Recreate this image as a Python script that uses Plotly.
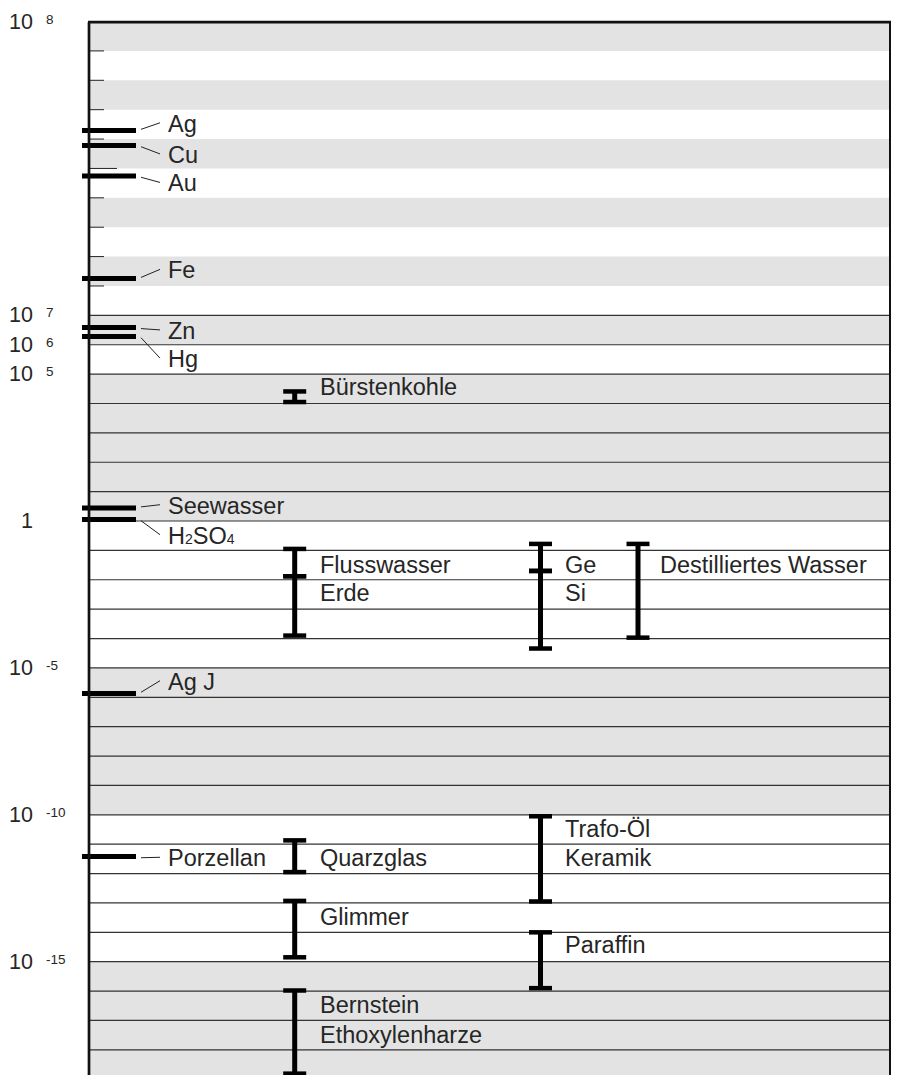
import plotly.graph_objects as go

# ---------------- data (chart position units: 1 unit = 1 band; below 10^7 one band = one decade) ----------------
# single-value materials (thick bars at the left axis)
point_names = ["Ag", "Cu", "Au", "Fe", "Zn", "Hg", "Seewasser",
               "H<span style='font-size:14px'>2</span>SO<span style='font-size:14px'>4</span>", "Ag J", "Porzellan"]
point_values = [13.29, 12.78, 11.74, 8.25, 6.59, 6.28, 0.44, 0.05, -5.87, -11.42]
point_label_pos = [13.52, 12.46, 11.49, 8.53, 6.47, 5.51, 0.52, -0.50, -5.47, -11.48]

# range materials: column, high end, low end
range_col = [1, 1, 1, 1, 1, 1, 2, 2, 2, 2, 3]
range_hi = [4.41, -0.95, -1.88, -10.87, -12.93, -15.98, -0.78, -1.70, -10.05, -14.00, -0.78]
range_lo = [4.05, -1.88, -3.90, -11.95, -14.85, -18.81, -1.70, -4.34, -12.95, -15.90, -3.97]

range_labels = ["Bürstenkohle", "Flusswasser", "Erde", "Quarzglas", "Glimmer", "Bernstein", "Ethoxylenharze",
                "Ge", "Si", "Trafo-Öl", "Keramik", "Paraffin", "Destilliertes Wasser"]
range_label_col = [1, 1, 1, 1, 1, 1, 1, 2, 2, 2, 2, 2, 3]
range_label_pos = [4.55, -1.49, -2.46, -11.46, -13.47, -16.46, -17.48, -1.50, -2.46, -10.47, -11.48, -14.43, -1.50]

# axis tick labels (mantissa + exponent)
tick_pos = [17, 7, 6, 5, 0, -5, -10, -15]
tick_base = ["10", "10", "10", "10", "1", "10", "10", "10"]
tick_exp = ["8", "7", "6", "5", "", "-5", "-10", "-15"]

# shaded bands and grid lines
band_lo = [16, 14, 12, 10, 8, 6, 0, -10, -19]
band_hi = [17, 15, 13, 11, 9, 7, 5, -5, -15]
grid_lines = list(range(7, -19, -1))
minor_ticks = [16, 15, 14, 13, 12, 11, 10, 9, 8]

# ---------------- style ----------------
# page body has an 8px default margin, so the figure is offset by 8px; x axis is in page pixels
X0, X1 = 89, 890.5
COL_X = {1: 294.7, 2: 540.5, 3: 638.0}
COL_LABEL_X = {1: 318, 2: 563, 3: 658}
PX_PER_UNIT = 29.38
FONT = "Liberation Sans, Arial, Helvetica, sans-serif"
TXT = "#262626"
FS = 23.5

fig = go.Figure()
shapes = []
for lo, hi in zip(band_lo, band_hi):
    shapes.append(dict(type="rect", xref="x", yref="y", x0=X0, x1=X1, y0=lo, y1=hi,
                       fillcolor="#e3e3e3", line=dict(width=0), layer="below"))
for g in grid_lines:
    shapes.append(dict(type="line", xref="x", yref="y", x0=X0, x1=X1, y0=g, y1=g,
                       line=dict(color="#333333", width=1.2), layer="below"))
for t in minor_ticks:
    shapes.append(dict(type="line", xref="x", yref="y", x0=X0, x1=(117 if t == 12 else 104), y0=t, y1=t,
                       line=dict(color="#222222", width=1)))
# frame
shapes.append(dict(type="line", xref="x", yref="y", x0=X0 - 1, x1=X1 + 1, y0=16.98, y1=16.98,
                   line=dict(color="#111111", width=2.6)))
shapes.append(dict(type="line", xref="x", yref="y", x0=X0, x1=X0, y0=16.98, y1=-19,
                   line=dict(color="#111111", width=2.7)))
shapes.append(dict(type="line", xref="x", yref="y", x0=X1, x1=X1, y0=16.98, y1=-19,
                   line=dict(color="#111111", width=3)))

# point bars + leader lines
bx, by, lx, ly = [], [], [], []
for v, lp in zip(point_values, point_label_pos):
    bx += [82, 136, None]
    by += [v, v, None]
    lx += [141, 160, None]
    start = v + ((1.2 if lp > v else -1.2) / PX_PER_UNIT if abs(lp - v) > 0.05 else 0)
    ly += [start, lp + 1 / PX_PER_UNIT, None]
fig.add_trace(go.Scatter(x=bx, y=by, mode="lines", line=dict(color="#000000", width=5), hoverinfo="skip"))
fig.add_trace(go.Scatter(x=lx, y=ly, mode="lines", line=dict(color="#222222", width=1), hoverinfo="skip"))

# range bars (I-beams)
sx, sy, cx, cy = [], [], [], []
for c, hi, lo in zip(range_col, range_hi, range_lo):
    xc = COL_X[c]
    sx += [xc, xc, None]
    sy += [hi, lo, None]
    for yv in (hi, lo):
        cx += [xc - 11.5, xc + 11.5, None]
        cy += [yv, yv, None]
fig.add_trace(go.Scatter(x=sx, y=sy, mode="lines", line=dict(color="#000000", width=5), hoverinfo="skip"))
fig.add_trace(go.Scatter(x=cx, y=cy, mode="lines", line=dict(color="#000000", width=4.5), hoverinfo="skip"))

ann = []
for name, lp in zip(point_names, point_label_pos):
    ann.append(dict(x=166, y=lp, text=name, xanchor="left", yanchor="middle", showarrow=False,
                    font=dict(family=FONT, size=FS, color=TXT)))
for name, c, lp in zip(range_labels, range_label_col, range_label_pos):
    ann.append(dict(x=COL_LABEL_X[c], y=lp, text=name, xanchor="left", yanchor="middle", showarrow=False,
                    font=dict(family=FONT, size=FS, color=TXT)))
for p, b, e in zip(tick_pos, tick_base, tick_exp):
    ann.append(dict(x=35, y=p, text=b, xanchor="right", yanchor="middle", showarrow=False,
                    font=dict(family=FONT, size=21.5, color=TXT)))
    if e:
        ann.append(dict(x=44, y=p + 2.5 / PX_PER_UNIT, text=e, xanchor="left", yanchor="middle", showarrow=False,
                        font=dict(family=FONT, size=13.5, color=TXT)))

fig.update_layout(
    width=891, height=1067,
    margin=dict(l=0, r=0, t=0, b=0),
    paper_bgcolor="white", plot_bgcolor="white",
    showlegend=False,
    xaxis=dict(range=[8, 899], visible=False, fixedrange=True),
    yaxis=dict(range=[-18.856, 17.461], visible=False, fixedrange=True),
    shapes=shapes, annotations=ann,
)
fig.write_html("out.html")
